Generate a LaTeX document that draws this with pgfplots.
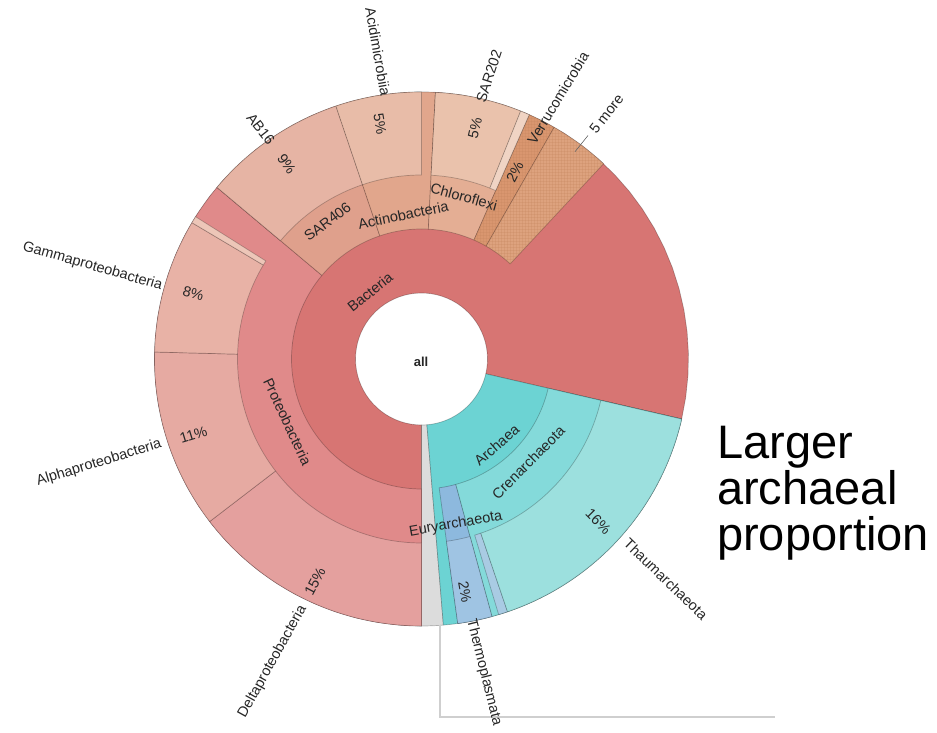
\documentclass[border=0pt]{standalone}
\usepackage{fontspec}
\setmainfont{Liberation Sans}
\usepackage{pgfplots}
\usepackage{pgfplotstable}
\pgfplotsset{compat=1.18}
\usetikzlibrary{patterns}

% ---- colours of the taxa ----
\definecolor{cBac}{HTML}{D77573}
\definecolor{cOther}{HTML}{DCDCDC}
\definecolor{cArc}{HTML}{6CD3D3}
\definecolor{cProt}{HTML}{E08A8A}
\definecolor{cSARfour}{HTML}{DFA08C}
\definecolor{cActino}{HTML}{E1A68C}
\definecolor{cChloro}{HTML}{E4AE94}
\definecolor{cVerru}{HTML}{D9966F}
\definecolor{cMore}{HTML}{DDA27E}
\definecolor{cHatch}{HTML}{C4835C}
\definecolor{cEury}{HTML}{8DB9DE}
\definecolor{cCren}{HTML}{84DADA}
\definecolor{cDelta}{HTML}{E4A09E}
\definecolor{cAlpha}{HTML}{E6AAA2}
\definecolor{cGamma}{HTML}{E8B2A6}
\definecolor{cMinorP}{HTML}{EDC6B8}
\definecolor{cABsixteen}{HTML}{E6B4A4}
\definecolor{cAcid}{HTML}{E8BCA8}
\definecolor{cSARtwo}{HTML}{EAC2AC}
\definecolor{cMinorC}{HTML}{F0D4C4}
\definecolor{cThermo}{HTML}{9FC4E3}
\definecolor{cMinorA}{HTML}{A9CBE3}
\definecolor{cThaum}{HTML}{9CE0DE}
\definecolor{cLead}{HTML}{CFCFCF}

\tikzset{lbl/.style={font=\fontsize{14.5}{16}\selectfont,
    text=black!85, inner sep=0pt}}

% ---- sectors: start/end angle (deg), inner/outer radius, colour, hatched ----
\pgfplotstableread[col sep=comma]{
name,a,b,r,R,col,hatch
Bacteria,-13,270,66,267,cBac,0
Other,270,274.7,66,267,cOther,0
Archaea,-85.3,-13,66,267,cArc,0
Proteobacteria,140,270,130,267,cProt,0
SAR406,108.7,140,130,267,cSARfour,0
Actinobacteria,87,108.7,130,267,cActino,0
Chloroflexi,66.2,87,130,267,cChloro,0
Verrucomicrobia,60.2,66.2,130,267,cVerru,1
FiveMore,47,60.2,130,267,cMore,1
Euryarchaeota,-82.2,-74.7,130,267,cEury,0
Crenarchaeota,-74.7,-13,130,267,cCren,0
Deltaproteobacteria,217.5,270,184,267,cDelta,0
Alphaproteobacteria,178.5,217.5,184,267,cAlpha,0
Gammaproteobacteria,149.3,178.5,184,267,cGamma,0
MinorProteo,147.8,149.3,184,267,cMinorP,0
AB16,108.7,140,184,267,cABsixteen,0
Acidimicrobiia,90,108.7,184,267,cAcid,0
SAR202,68.2,87,184,267,cSARtwo,0
MinorChloro,66.2,68.2,184,267,cMinorC,0
Thermoplasmata,-82.2,-74.7,184,267,cThermo,0
MinorCren,-73.2,-71.2,184,267,cMinorA,0
Thaumarchaeota,-71.2,-13,184,267,cThaum,0
}\sectors

\begin{document}
\begin{tikzpicture}
\begin{axis}[
  hide axis, clip=false, scale only axis,
  x=1pt, y=1pt,
  xmin=-421.5, xmax=515.5, ymin=-374, ymax=359,
  declare function={
    sectsweep(\t)=max(0,min(1,min(\t,3-\t)));
    sectdepth(\t)=max(max(min(1,2-\t),\t-3),0);
  },
  sector/.style={draw=black, draw opacity=0.25, line width=0.7pt,
    line join=round, mark=none, domain=0:4, samples=241},
]
\path (rel axis cs:0,0) rectangle (rel axis cs:1,1);

% annular sectors, parents first so children lie on top
\pgfplotstablegetrowsof{\sectors}
\pgfmathtruncatemacro{\lastrow}{\pgfplotsretval-1}
\pgfplotsforeachungrouped \i in {0,...,\lastrow}{%
  \pgfplotstablegetelem{\i}{a}\of\sectors\let\Sa\pgfplotsretval
  \pgfplotstablegetelem{\i}{b}\of\sectors\let\Sb\pgfplotsretval
  \pgfplotstablegetelem{\i}{r}\of\sectors\let\Sr\pgfplotsretval
  \pgfplotstablegetelem{\i}{R}\of\sectors\let\SR\pgfplotsretval
  \pgfplotstablegetelem{\i}{col}\of\sectors\let\Scol\pgfplotsretval
  \pgfplotstablegetelem{\i}{hatch}\of\sectors\let\Shatch\pgfplotsretval
  \edef\cmd{\noexpand\addplot[sector, fill=\Scol]
    ({(\Sr+(\SR-\Sr)*sectdepth(x))*cos(\Sa+((\Sb)-(\Sa))*sectsweep(x))},
     {(\Sr+(\SR-\Sr)*sectdepth(x))*sin(\Sa+((\Sb)-(\Sa))*sectsweep(x))}) --cycle;}%
  \cmd
  \ifnum\Shatch=1
    \edef\cmd{\noexpand\addplot[sector, draw=none, pattern=grid, pattern color=cHatch]
      ({(\Sr+(\SR-\Sr)*sectdepth(x))*cos(\Sa+((\Sb)-(\Sa))*sectsweep(x))},
       {(\Sr+(\SR-\Sr)*sectdepth(x))*sin(\Sa+((\Sb)-(\Sa))*sectsweep(x))}) --cycle;}%
    \cmd
  \fi
}

% leader lines
\addplot[draw=cLead, line width=1.2pt, mark=none] coordinates {(18.5,-266) (18.5,-358) (353.5,-358)};
\addplot[draw=black!60, line width=0.6pt, mark=none] coordinates {(153.5,207.3) (166.5,223.5)};

% centre and inner ring labels
\node[lbl, font=\fontsize{13}{15}\selectfont\bfseries] at (-0.5,-3) {all};
\node[lbl, rotate=39] at (-51.5,67) {Bacteria};
\node[lbl, rotate=41] at (75.2,-86) {Archaea};
\node[lbl, rotate=-65] at (-134,-62.7) {Proteobacteria};
\node[lbl, rotate=37] at (-94,137.3) {SAR406};
\node[lbl, rotate=11.7] at (-18.2,144) {Actinobacteria};
\node[lbl, rotate=-15.6] at (42.5,162.3) {Chloroflexi};
\node[lbl, rotate=45] at (106.8,-103.5) {Crenarchaeota};
\node[lbl, rotate=10] at (34.3,-165.2) {Euryarchaeota};

% outer names
\node[lbl, rotate=-16] at (-329,92.5) {Gammaproteobacteria};
\node[lbl, rotate=17] at (-322.5,-104) {Alphaproteobacteria};
\node[lbl, rotate=61] at (-149,-302.7) {Deltaproteobacteria};
\node[lbl, rotate=-52] at (-160.7,229.8) {AB16};
\node[lbl, rotate=-80] at (-43.5,307) {Acidimicrobiia};
\node[lbl, rotate=72] at (67.5,283) {SAR202};
\node[lbl, rotate=59] at (136.5,261) {Verrucomicrobia};
\node[lbl, rotate=52] at (185,245) {5 more};
\node[lbl, rotate=-44] at (244.3,-220.2) {Thaumarchaeota};
\node[lbl, rotate=-76] at (62.5,-313.5) {Thermoplasmata};

% percentages
\node[lbl, rotate=-16] at (-228.2,65.7) {8\%};
\node[lbl, rotate=17] at (-228,-76) {11\%};
\node[lbl, rotate=62] at (-106.5,-222.7) {15\%};
\node[lbl, rotate=-56] at (-134.8,195) {9\%};
\node[lbl, rotate=-80] at (-41.5,235) {5\%};
\node[lbl, rotate=77] at (53.5,230.7) {5\%};
\node[lbl, rotate=63] at (93.5,187.3) {2\%};
\node[lbl, rotate=-45] at (176.8,-162.7) {16\%};
\node[lbl, rotate=-80] at (43.5,-232.7) {2\%};

% annotation
\node[anchor=base west, inner sep=0pt, font=\fontsize{47}{47}\selectfont] at (295.5,-100) {Larger};
\node[anchor=base west, inner sep=0pt, font=\fontsize{47}{47}\selectfont] at (295.5,-146) {archaeal};
\node[anchor=base west, inner sep=0pt, font=\fontsize{47}{47}\selectfont] at (295.5,-192) {proportion};
\end{axis}
\end{tikzpicture}
\end{document}
